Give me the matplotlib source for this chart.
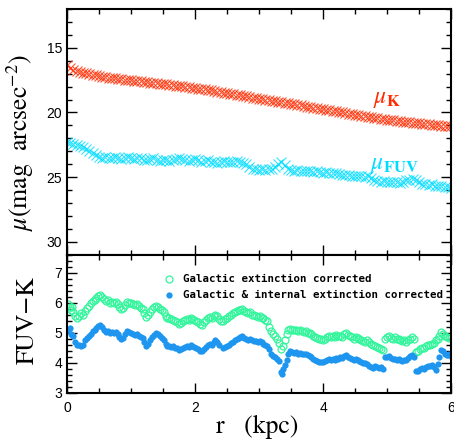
# surface brightness profiles and FUV-K colour profile
import matplotlib
matplotlib.use("Agg")
import matplotlib.pyplot as plt
from matplotlib.ticker import MultipleLocator

plt.rcParams['mathtext.fontset'] = 'stix'

# radius grid of the two profiles (kpc), every 0.05
r_prof = [i * 0.05 for i in range(121)]

mu_k = [16.35, 16.55, 16.70, 16.80, 16.85, 16.92, 16.98, 17.05, 17.10, 17.12,
        17.18, 17.22, 17.25, 17.30, 17.32, 17.36, 17.40, 17.42, 17.45, 17.50,
        17.52, 17.55, 17.58, 17.60, 17.62, 17.66, 17.70, 17.72, 17.75, 17.78,
        17.80, 17.82, 17.86, 17.88, 17.92, 17.95, 17.98, 18.02, 18.05, 18.08,
        18.12, 18.15, 18.18, 18.22, 18.25, 18.30, 18.34, 18.38, 18.42, 18.46,
        18.50, 18.55, 18.58, 18.62, 18.68, 18.72, 18.76, 18.80, 18.85, 18.90,
        18.94, 18.98, 19.02, 19.05, 19.10, 19.14, 19.18, 19.22, 19.26, 19.30,
        19.34, 19.38, 19.42, 19.46, 19.50, 19.55, 19.58, 19.62, 19.66, 19.70,
        19.75, 19.80, 19.84, 19.88, 19.92, 19.96, 20.00, 20.05, 20.10, 20.14,
        20.18, 20.22, 20.26, 20.30, 20.34, 20.38, 20.42, 20.46, 20.50, 20.52,
        20.55, 20.58, 20.62, 20.64, 20.68, 20.70, 20.74, 20.76, 20.80, 20.82,
        20.85, 20.88, 20.90, 20.92, 20.95, 20.98, 21.00, 21.02, 21.05, 21.06,
        21.08]

mu_fuv = [22.30, 22.35, 22.45, 22.50, 22.60, 22.70, 22.85, 23.00, 23.15, 23.30,
          23.45, 23.50, 23.45, 23.50, 23.55, 23.45, 23.50, 23.60, 23.50, 23.45,
          23.55, 23.60, 23.50, 23.55, 23.65, 23.70, 23.60, 23.55, 23.65, 23.75,
          23.70, 23.65, 23.75, 23.70, 23.60, 23.55, 23.60, 23.70, 23.75, 23.65,
          23.60, 23.70, 23.80, 23.75, 23.70, 23.80, 23.85, 23.90, 23.80, 23.75,
          23.80, 23.85, 23.80, 23.75, 23.80, 23.90, 24.00, 24.20, 24.35, 24.40,
          24.45, 24.40, 24.45, 24.40, 24.35, 24.20, 24.00, 23.80, 24.05, 24.35,
          24.45, 24.50, 24.45, 24.50, 24.55, 24.50, 24.55, 24.60, 24.55, 24.60,
          24.65, 24.60, 24.65, 24.70, 24.65, 24.75, 24.80, 24.85, 24.80, 24.90,
          24.95, 24.90, 24.95, 25.00, 24.95, 25.05, 25.20, 25.30, 25.35, 25.30,
          25.35, 25.40, 25.35, 25.40, 25.45, 25.35, 25.25, 25.20, 25.15, 25.25,
          25.40, 25.50, 25.55, 25.60, 25.55, 25.65, 25.70, 25.65, 25.75, 25.80,
          25.85]

# FUV-K, galactic extinction corrected
r_gal = [0.02, 0.04, 0.06, 0.08, 0.10, 0.13, 0.16, 0.19, 0.22, 0.25, 0.28, 0.31, 0.34, 0.37, 0.40,
         0.43, 0.46, 0.49, 0.52, 0.55, 0.58, 0.61, 0.64, 0.67, 0.70, 0.73, 0.76, 0.79, 0.82, 0.85,
         0.88, 0.91, 0.94, 0.97, 1.00, 1.03, 1.06, 1.09, 1.12, 1.15, 1.18, 1.21, 1.24, 1.27, 1.30,
         1.33, 1.36, 1.39, 1.42, 1.45, 1.48, 1.51, 1.54, 1.57, 1.60, 1.63, 1.66, 1.69, 1.72, 1.75,
         1.78, 1.81, 1.84, 1.87, 1.90, 1.93, 1.96, 1.99, 2.02, 2.05, 2.08, 2.11, 2.14, 2.17, 2.20,
         2.23, 2.26, 2.29, 2.32, 2.35, 2.38, 2.41, 2.44, 2.47, 2.50, 2.53, 2.56, 2.59, 2.62, 2.65,
         2.68, 2.71, 2.74, 2.77, 2.80, 2.83, 2.86, 2.89, 2.92, 2.95, 2.98, 3.01, 3.04, 3.07, 3.10,
         3.13, 3.16, 3.19, 3.22, 3.25, 3.28, 3.31, 3.34, 3.37, 3.40, 3.43, 3.46, 3.49, 3.52, 3.55,
         3.58, 3.61, 3.64, 3.67, 3.70, 3.73, 3.76, 3.79, 3.82, 3.85, 3.88, 3.91, 3.94, 3.97, 4.00,
         4.03, 4.06, 4.09, 4.12, 4.15, 4.18, 4.21, 4.24, 4.27, 4.30, 4.33, 4.36, 4.39, 4.42, 4.45,
         4.48, 4.51, 4.54, 4.57, 4.60, 4.63, 4.66, 4.69, 4.72, 4.75, 4.78, 4.81, 4.84, 4.87, 4.90,
         4.93, 4.97, 5.00, 5.03, 5.06, 5.09, 5.12, 5.15, 5.18, 5.21, 5.24, 5.27, 5.30, 5.33, 5.36,
         5.39, 5.42, 5.46, 5.49, 5.52, 5.55, 5.58, 5.61, 5.64, 5.67, 5.70, 5.73, 5.76, 5.79, 5.82,
         5.85, 5.88, 5.91, 5.94, 5.97, 6.00]
fuvk_gal = [5.95, 5.85, 5.75, 5.85, 5.70, 5.55, 5.48, 5.55, 5.65, 5.60, 5.72, 5.82, 5.90, 5.98, 6.05,
            6.10, 6.15, 6.22, 6.27, 6.20, 6.12, 6.05, 6.08, 6.00, 6.02, 5.98, 6.02, 5.95, 5.85, 5.78,
            5.82, 5.92, 6.02, 6.00, 5.98, 5.95, 5.92, 5.96, 5.88, 5.82, 5.80, 5.65, 5.52, 5.58, 5.70,
            5.78, 5.85, 5.90, 5.86, 5.80, 5.75, 5.68, 5.55, 5.50, 5.48, 5.45, 5.42, 5.40, 5.35, 5.30,
            5.32, 5.38, 5.42, 5.45, 5.42, 5.48, 5.45, 5.42, 5.38, 5.35, 5.30, 5.27, 5.35, 5.42, 5.50,
            5.52, 5.48, 5.55, 5.60, 5.55, 5.45, 5.38, 5.40, 5.45, 5.50, 5.55, 5.60, 5.65, 5.68, 5.72,
            5.75, 5.75, 5.78, 5.72, 5.70, 5.65, 5.68, 5.60, 5.58, 5.55, 5.52, 5.55, 5.50, 5.48, 5.42,
            5.38, 5.20, 5.05, 4.95, 4.88, 4.80, 4.65, 4.45, 4.55, 4.75, 4.95, 5.08, 5.12, 5.10, 5.08,
            5.10, 5.05, 5.08, 5.05, 5.02, 5.05, 5.00, 4.98, 4.95, 4.90, 4.85, 4.82, 4.80, 4.78, 4.77,
            4.80, 4.85, 4.88, 4.85, 4.90, 4.85, 4.92, 4.88, 4.90, 4.85, 4.95, 4.98, 4.92, 4.88, 4.85,
            4.80, 4.85, 4.82, 4.78, 4.75, 4.72, 4.70, 4.75, 4.68, 4.62, 4.60, 4.55, 4.52, 4.48, 4.45,
            4.42, 4.80, 4.85, 4.88, 4.82, 4.80, 4.85, 4.78, 4.80, 4.75, 4.72, 4.75, 4.70, 4.75, 4.80,
            4.85, 4.80, 4.35, 4.38, 4.45, 4.50, 4.48, 4.55, 4.60, 4.58, 4.62, 4.65, 4.75, 4.80, 4.90,
            5.02, 4.95, 4.88, 4.85, 4.82, 4.85]

# FUV-K, galactic and internal extinction corrected
r_int = [0.02, 0.04, 0.06, 0.08, 0.10, 0.13, 0.16, 0.19, 0.22, 0.25, 0.28, 0.31, 0.34, 0.37, 0.40,
         0.43, 0.46, 0.49, 0.52, 0.55, 0.58, 0.61, 0.64, 0.67, 0.70, 0.73, 0.76, 0.79, 0.82, 0.85,
         0.88, 0.91, 0.94, 0.97, 1.00, 1.03, 1.06, 1.09, 1.12, 1.15, 1.18, 1.21, 1.24, 1.27, 1.30,
         1.33, 1.36, 1.39, 1.42, 1.45, 1.48, 1.51, 1.54, 1.57, 1.60, 1.63, 1.66, 1.69, 1.72, 1.75,
         1.78, 1.81, 1.84, 1.87, 1.90, 1.93, 1.96, 1.99, 2.02, 2.05, 2.08, 2.11, 2.14, 2.17, 2.20,
         2.23, 2.26, 2.29, 2.32, 2.35, 2.38, 2.44, 2.47, 2.50, 2.53, 2.56, 2.59, 2.62, 2.65, 2.68,
         2.71, 2.74, 2.77, 2.80, 2.83, 2.86, 2.89, 2.92, 2.95, 2.98, 3.01, 3.04, 3.07, 3.10, 3.13,
         3.16, 3.19, 3.22, 3.25, 3.28, 3.31, 3.34, 3.36, 3.38, 3.40, 3.43, 3.46, 3.49, 3.52, 3.55,
         3.58, 3.61, 3.64, 3.67, 3.70, 3.73, 3.76, 3.79, 3.82, 3.85, 3.88, 3.91, 3.94, 3.97, 4.00,
         4.03, 4.06, 4.09, 4.12, 4.15, 4.18, 4.21, 4.24, 4.27, 4.30, 4.33, 4.36, 4.39, 4.42, 4.45,
         4.48, 4.51, 4.54, 4.57, 4.60, 4.63, 4.66, 4.69, 4.72, 4.75, 4.78, 4.81, 4.84, 4.87, 4.90,
         4.93, 4.97, 5.00, 5.03, 5.06, 5.09, 5.12, 5.15, 5.18, 5.21, 5.24, 5.27, 5.30, 5.33, 5.36,
         5.39, 5.42, 5.46, 5.49, 5.52, 5.55, 5.58, 5.61, 5.64, 5.67, 5.70, 5.73, 5.76, 5.79, 5.82,
         5.85, 5.88, 5.91, 5.94, 5.97, 6.00]
fuvk_int = [5.10, 5.15, 4.95, 4.92, 4.90, 4.70, 4.60, 4.58, 4.55, 4.60, 4.75, 4.82, 4.88, 4.95, 5.05,
            5.10, 5.15, 5.22, 5.27, 5.20, 5.10, 5.02, 5.05, 5.00, 5.03, 4.98, 5.02, 4.95, 4.85, 4.78,
            4.82, 4.95, 5.05, 5.02, 4.98, 4.95, 4.92, 4.95, 4.90, 4.85, 4.82, 4.68, 4.55, 4.62, 4.75,
            4.85, 4.92, 5.00, 4.95, 4.88, 4.82, 4.75, 4.62, 4.55, 4.55, 4.52, 4.55, 4.50, 4.48, 4.43,
            4.45, 4.50, 4.52, 4.55, 4.52, 4.58, 4.55, 4.52, 4.48, 4.45, 4.40, 4.38, 4.45, 4.52, 4.60,
            4.62, 4.58, 4.68, 4.77, 4.70, 4.60, 4.49, 4.52, 4.55, 4.60, 4.65, 4.70, 4.75, 4.78, 4.82,
            4.85, 4.88, 4.82, 4.80, 4.77, 4.80, 4.75, 4.72, 4.72, 4.70, 4.72, 4.68, 4.62, 4.58, 4.55,
            4.45, 4.30, 4.22, 4.18, 4.12, 4.05, 3.70, 3.62, 3.80, 3.92, 4.10, 4.30, 4.38, 4.35, 4.32,
            4.35, 4.30, 4.33, 4.30, 4.28, 4.30, 4.25, 4.22, 4.20, 4.12, 4.08, 4.05, 4.03, 4.02, 4.03,
            4.05, 4.10, 4.12, 4.10, 4.14, 4.10, 4.15, 4.12, 4.18, 4.15, 4.22, 4.25, 4.20, 4.15, 4.12,
            4.10, 4.12, 4.08, 4.05, 4.02, 4.00, 3.98, 3.95, 3.90, 3.85, 3.82, 3.88, 3.85, 3.82, 3.85,
            3.80, 4.18, 4.20, 4.22, 4.15, 4.12, 4.14, 4.10, 4.12, 4.08, 4.05, 4.08, 4.10, 4.15, 4.21,
            4.25, 4.20, 3.71, 3.72, 3.78, 3.82, 3.80, 3.85, 3.90, 3.88, 3.94, 3.85, 3.77, 3.95, 4.20,
            4.43, 4.40, 4.30, 4.25, 4.28, 4.22]

red = '#ff2a00'
cyan = '#00dcff'
green = '#33f59c'
blue = '#1e96f0'

tick_font = {'family': 'Liberation Sans', 'size': 10}
label_font = {'family': 'STIXGeneral', 'size': 18.5}

fig = plt.figure(figsize=(4.54, 4.45), dpi=100)
ax1 = fig.add_axes([0.1476, 0.4276, 0.8458, 0.5521])
ax2 = fig.add_axes([0.1476, 0.1175, 0.8458, 0.3101])

# top panel: surface brightness
ax1.plot(r_prof, mu_k, 'x', color=red, ms=7, mew=0.8, alpha=0.8)
ax1.plot(r_prof, mu_fuv, 'x', color=cyan, ms=7, mew=0.8, alpha=0.8)
ax1.text(5.0, 18.9, r'$\mu_{\mathbf{K}}$', color=red, fontsize=17, ha='center', va='center')
ax1.text(5.12, 24.0, r'$\mu_{\mathbf{FUV}}$', color=cyan, fontsize=17, ha='center', va='center')
ax1.set_xlim(0, 6)
ax1.set_ylim(31, 12)
ax1.yaxis.set_major_locator(MultipleLocator(5))
ax1.yaxis.set_minor_locator(MultipleLocator(1))
ax1.set_yticks([15, 20, 25, 30])

# bottom panel: colour
ax2.plot(r_gal, fuvk_gal, 'o', mfc='none', mec=green, ms=5, mew=0.9)
ax2.plot(r_int, fuvk_int, 'o', color=blue, ms=4.5, mew=0)
ax2.set_xlim(0, 6)
ax2.set_ylim(3, 7.6)
ax2.yaxis.set_major_locator(MultipleLocator(1))
ax2.yaxis.set_minor_locator(MultipleLocator(0.2))

# legend drawn by hand
ax2.plot([1.6], [6.8], 'o', mfc='none', mec=green, ms=5, mew=0.9)
ax2.plot([1.6], [6.25], 'o', color=blue, ms=4.5, mew=0)
legend_font = {'family': 'DejaVu Sans Mono', 'size': 7.75, 'weight': 'bold'}
ax2.text(1.82, 6.8, 'Galactic extinction corrected', fontdict=legend_font, va='center')
ax2.text(1.82, 6.25, 'Galactic & internal extinction corrected', fontdict=legend_font, va='center')

for ax in (ax1, ax2):
    ax.xaxis.set_major_locator(MultipleLocator(2))
    ax.xaxis.set_minor_locator(MultipleLocator(0.5))
    ax.tick_params(which='both', direction='in', top=True, right=True, width=1)
    ax.tick_params(which='major', length=7)
    ax.tick_params(which='minor', length=3.5)
    for s in ax.spines.values():
        s.set_linewidth(1.5)
    for lab in ax.get_xticklabels() + ax.get_yticklabels():
        lab.set_fontfamily(tick_font['family'])
        lab.set_fontsize(tick_font['size'])

ax1.tick_params(labelbottom=False)
ax2.tick_params(axis='x', pad=6)

fig.text(0.044, 0.68, r'$\mu$(mag  arcsec$^{-2}$)', rotation=90, ha='center', va='center', **label_font)
fig.text(0.062, 0.28, 'FUV\u2212K', rotation=90, ha='center', va='center', **label_font)
fig.text(0.567, 0.04, 'r   (kpc)', ha='center', va='center', **label_font)

fig.savefig('out.png', dpi=100)
